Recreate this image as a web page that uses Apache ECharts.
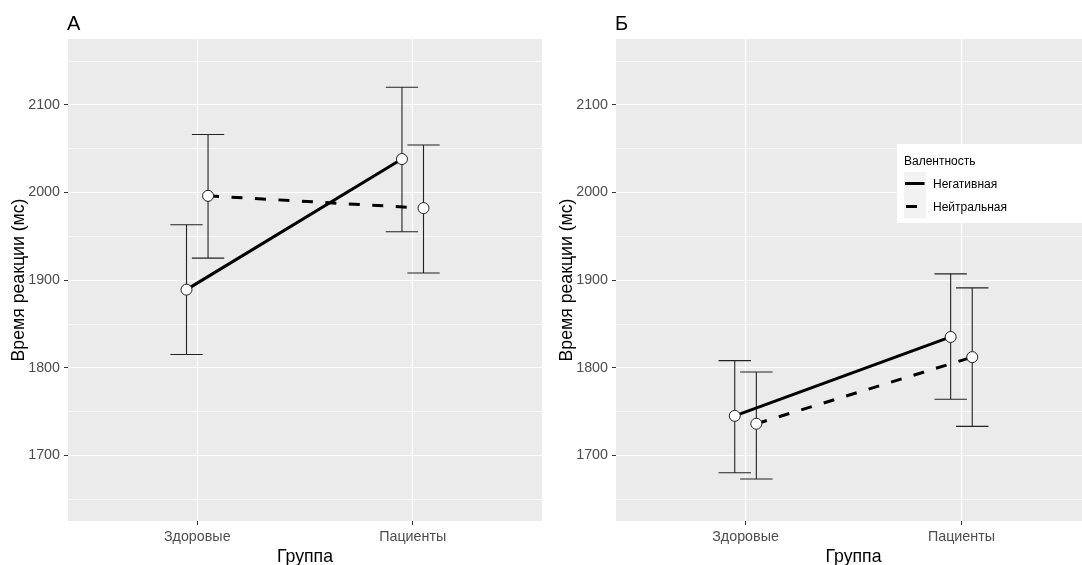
<!DOCTYPE html>
<html>
<head>
<meta charset="utf-8">
<title>Время реакции</title>
<script src="https://cdn.jsdelivr.net/npm/echarts@6/dist/echarts.min.js"></script>
<style>
  html, body { margin: 0; padding: 0; background: #fff; }
  #chart { width: 1082px; height: 565px; }
</style>
</head>
<body>
<div id="chart"></div>
<script>
const groups = ['Здоровые', 'Пациенты'];
const valence = ['Негативная', 'Нейтральная'];
const yTicks = [1700, 1800, 1900, 2000, 2100];
const yMinor = [1650, 1750, 1850, 1950, 2050, 2150];

// panel А
const aNegMean = [1889, 2038];
const aNegLow = [1815, 1955];
const aNegHigh = [1963, 2120];
const aNeuMean = [1996, 1982];
const aNeuLow = [1925, 1908];
const aNeuHigh = [2066, 2054];

// panel Б
const bNegMean = [1745, 1835];
const bNegLow = [1680, 1764];
const bNegHigh = [1808, 1907];
const bNeuMean = [1736, 1812];
const bNeuLow = [1673, 1733];
const bNeuHigh = [1795, 1891];

const font = '"Liberation Sans", Arial, sans-serif';
const dodge = 0.05;     // shift of each valence inside a group
const capHalf = 0.075;  // half width of the error bar caps
const xTicks = groups.map((g, i) => i + 1);

function xAxisFor(i) {
  return {
    type: 'value', gridIndex: i, min: 0.4, max: 2.6,
    name: 'Группа', nameLocation: 'middle', nameGap: 27, nameMoveOverlap: false,
    nameTextStyle: { fontFamily: font, fontSize: 17.7, color: '#000' },
    axisLine: { show: false },
    axisTick: { show: true, length: 4, customValues: xTicks, lineStyle: { color: '#333', width: 1 } },
    axisLabel: {
      customValues: xTicks, margin: 9, fontFamily: font, fontSize: 14.3, color: '#4d4d4d',
      formatter: v => groups[Math.round(v) - 1]
    },
    splitLine: { show: true, lineStyle: { color: '#fff', width: 1.2 } }
  };
}

function yAxisFor(i) {
  return {
    type: 'value', gridIndex: i, min: 1625, max: 2175, position: 'left',
    name: 'Время реакции (мс)', nameLocation: 'middle', nameGap: 40, nameMoveOverlap: false,
    nameTextStyle: { fontFamily: font, fontSize: 17.7, color: '#000' },
    axisLine: { show: false },
    axisTick: { show: true, length: 4, customValues: yTicks, lineStyle: { color: '#333', width: 1 } },
    axisLabel: {
      customValues: yTicks, margin: 8, fontFamily: font, fontSize: 14.3, color: '#4d4d4d',
      formatter: v => String(v)
    },
    splitLine: { show: true, lineStyle: { color: '#fff', width: 1.2 } }
  };
}

function yMinorFor(i) {
  return {
    type: 'value', gridIndex: i, min: 1625, max: 2175, position: 'left',
    axisLine: { show: false },
    axisTick: { show: false, customValues: yMinor },
    axisLabel: { show: false },
    splitLine: { show: true, lineStyle: { color: '#fff', width: 0.6 } }
  };
}

function errorSeries(panel, low, high, offset) {
  return {
    type: 'custom', xAxisIndex: panel, yAxisIndex: panel * 2, z: 2,
    silent: true, animation: false,
    data: groups.map((g, i) => [i + 1 + offset, low[i], high[i]]),
    encode: { x: 0, y: [1, 2] },
    renderItem: (params, api) => {
      const x = api.value(0);
      const lo = api.coord([x, api.value(1)]);
      const hi = api.coord([x, api.value(2)]);
      const l = api.coord([x - capHalf, api.value(2)])[0];
      const r = api.coord([x + capHalf, api.value(2)])[0];
      const style = { stroke: '#222', lineWidth: 1.1, fill: null };
      return {
        type: 'group',
        children: [
          { type: 'line', shape: { x1: lo[0], y1: lo[1], x2: hi[0], y2: hi[1] }, style },
          { type: 'line', shape: { x1: l, y1: hi[1], x2: r, y2: hi[1] }, style },
          { type: 'line', shape: { x1: l, y1: lo[1], x2: r, y2: lo[1] }, style }
        ]
      };
    }
  };
}

function lineSeries(panel, name, mean, offset, dashed) {
  return {
    type: 'line', name, xAxisIndex: panel, yAxisIndex: panel * 2, z: 3,
    silent: true, animation: false, showSymbol: false,
    data: groups.map((g, i) => [i + 1 + offset, mean[i]]),
    lineStyle: { color: '#000', width: 3, type: dashed ? [11, 12.5] : 'solid', cap: 'butt' }
  };
}

function pointSeries(panel, mean, offset) {
  return {
    type: 'scatter', xAxisIndex: panel, yAxisIndex: panel * 2, z: 4,
    silent: true, animation: false,
    data: groups.map((g, i) => [i + 1 + offset, mean[i]]),
    symbol: 'circle', symbolSize: 11,
    itemStyle: { color: '#fff', borderColor: '#222', borderWidth: 1, opacity: 1 }
  };
}

const chart = echarts.init(document.getElementById('chart'), null, { renderer: 'canvas' });

const titleStyle = { fontFamily: font, fontSize: 20, fontWeight: 'normal', color: '#000' };

chart.setOption({
  backgroundColor: '#fff',
  animation: false,
  title: [
    { text: 'А', left: 67, top: 14, padding: 0, textStyle: titleStyle },
    { text: 'Б', left: 615, top: 14, padding: 0, textStyle: titleStyle }
  ],
  grid: [
    { left: 68, top: 39, width: 474, height: 482, outerBoundsMode: 'none', containLabel: false,
      backgroundColor: '#ebebeb', show: true, borderWidth: 0 },
    { left: 616, top: 39, width: 475, height: 482, outerBoundsMode: 'none', containLabel: false,
      backgroundColor: '#ebebeb', show: true, borderWidth: 0 }
  ],
  xAxis: [xAxisFor(0), xAxisFor(1)],
  yAxis: [yAxisFor(0), yMinorFor(0), yAxisFor(1), yMinorFor(1)],
  series: [
    errorSeries(0, aNegLow, aNegHigh, -dodge),
    errorSeries(0, aNeuLow, aNeuHigh, dodge),
    lineSeries(0, valence[0], aNegMean, -dodge, false),
    lineSeries(0, valence[1], aNeuMean, dodge, true),
    pointSeries(0, aNegMean, -dodge),
    pointSeries(0, aNeuMean, dodge),
    errorSeries(1, bNegLow, bNegHigh, -dodge),
    errorSeries(1, bNeuLow, bNeuHigh, dodge),
    lineSeries(1, valence[0], bNegMean, -dodge, false),
    lineSeries(1, valence[1], bNeuMean, dodge, true),
    pointSeries(1, bNegMean, -dodge),
    pointSeries(1, bNeuMean, dodge)
  ],
  graphic: [
    { type: 'rect', left: 897, top: 144, shape: { width: 190, height: 79 }, style: { fill: '#fff' }, z: 10 },
    { type: 'text', left: 904, top: 156, z: 11, style: { text: 'Валентность', fontFamily: font, fontSize: 12, fill: '#000' } },
    { type: 'rect', left: 904, top: 172, shape: { width: 22, height: 23 }, style: { fill: '#f2f2f2' }, z: 11 },
    { type: 'rect', left: 904, top: 195, shape: { width: 22, height: 23 }, style: { fill: '#f2f2f2' }, z: 11 },
    { type: 'line', shape: { x1: 905, y1: 183.5, x2: 924.5, y2: 183.5 }, style: { stroke: '#000', lineWidth: 3 }, z: 12 },
    { type: 'line', shape: { x1: 906, y1: 206.5, x2: 917, y2: 206.5 }, style: { stroke: '#000', lineWidth: 3 }, z: 12 },
    { type: 'text', left: 933, top: 179, z: 11, style: { text: valence[0], fontFamily: font, fontSize: 12, fill: '#000' } },
    { type: 'text', left: 933, top: 202, z: 11, style: { text: valence[1], fontFamily: font, fontSize: 12, fill: '#000' } }
  ]
});
</script>
</body>
</html>
